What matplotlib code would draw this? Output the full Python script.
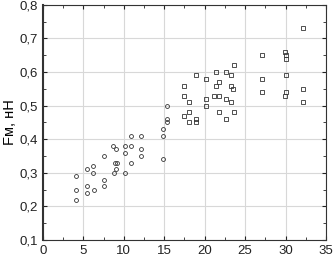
import matplotlib
matplotlib.use("Agg")
import matplotlib.pyplot as plt
from matplotlib.ticker import FuncFormatter, MultipleLocator

plt.rcParams["font.family"] = ["Liberation Sans", "DejaVu Sans"]

# open circles (low x)
x_circ = [4.1, 4.1, 4.1, 5.4, 5.5, 5.5, 6.2, 6.2, 6.3, 7.5, 7.5, 7.5,
          8.7, 9.0, 8.9, 9.1, 9.0, 8.8, 10.1, 10.1, 10.1, 10.9, 10.9, 10.9,
          12.1, 12.1, 12.1, 14.8, 14.8, 14.8, 15.3, 15.3, 15.3]
y_circ = [0.29, 0.25, 0.22, 0.31, 0.26, 0.24, 0.32, 0.30, 0.25, 0.35, 0.28, 0.26,
          0.38, 0.37, 0.33, 0.33, 0.31, 0.30, 0.38, 0.36, 0.30, 0.41, 0.38, 0.33,
          0.41, 0.37, 0.35, 0.43, 0.41, 0.34, 0.50, 0.46, 0.45]

# open squares (high x)
x_sq = [17.5, 17.5, 17.5, 18.0, 18.0, 18.0, 18.9, 18.9, 18.9,
        20.1, 20.1, 20.1, 21.4, 21.4, 21.2, 21.8, 21.8, 21.8,
        22.6, 22.6, 22.6, 23.2, 23.2, 23.2, 23.5, 23.6, 23.6,
        27.1, 27.1, 27.1, 29.9, 30.0, 30.0, 30.1, 30.1, 29.9,
        32.1, 32.1, 32.1]
y_sq = [0.56, 0.53, 0.47, 0.51, 0.48, 0.45, 0.59, 0.46, 0.45,
        0.58, 0.52, 0.50, 0.60, 0.56, 0.53, 0.57, 0.53, 0.48,
        0.60, 0.52, 0.46, 0.59, 0.56, 0.51, 0.55, 0.62, 0.48,
        0.65, 0.58, 0.54, 0.66, 0.65, 0.64, 0.59, 0.54, 0.53,
        0.73, 0.55, 0.51]

fig = plt.figure(figsize=(3.33, 2.57), dpi=100)
ax = fig.add_axes([0.129, 0.066, 0.85, 0.915])

ax.plot(x_circ, y_circ, "o", ms=2.8, mfc="none", mec="#333333", mew=0.6)
ax.plot(x_sq, y_sq, "s", ms=2.8, mfc="none", mec="#333333", mew=0.6)

ax.set_xlim(0, 35)
ax.set_ylim(0.1, 0.8)
ax.xaxis.set_major_locator(MultipleLocator(5))
ax.yaxis.set_major_locator(MultipleLocator(0.1))
ax.xaxis.set_minor_locator(MultipleLocator(2.5))
ax.yaxis.set_minor_locator(MultipleLocator(0.05))
ax.yaxis.set_major_formatter(FuncFormatter(lambda v, p: ("%.1f" % v).replace(".", ",")))
ax.grid(True, which="major", color="#d8d8d8", lw=0.8)
ax.set_axisbelow(True)
ax.tick_params(which="both", direction="in", top=True, right=True, labelsize=9.5, colors="#222222")
ax.tick_params(which="major", length=3)
ax.tick_params(which="minor", length=2)
for s in ax.spines.values():
    s.set_color("#333333")
    s.set_linewidth(0.8)
ax.spines["left"].set_linewidth(1.5)

ax.set_ylabel("Fм, нН", fontsize=10.5, labelpad=2)

fig.savefig("out.png", dpi=100)
